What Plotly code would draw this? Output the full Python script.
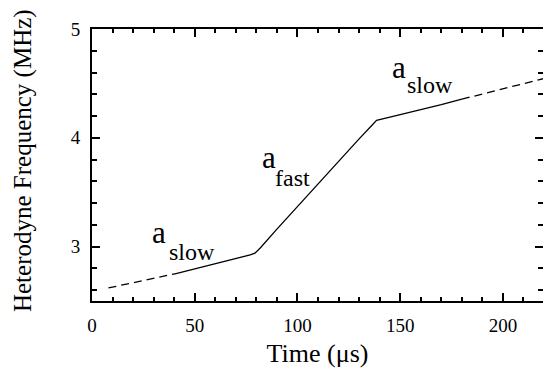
import plotly.graph_objects as go

# Data
dash_lo_t = [8, 40.4]
dash_lo_f = [2.62, 2.75]
solid_t = [40.4, 50, 60, 70, 77, 79.3, 82, 90, 100, 110, 120, 130, 136.5, 138.5, 145, 150, 160, 170, 180]
solid_f = [2.75, 2.795, 2.84, 2.89, 2.925, 2.94, 2.99, 3.16, 3.37, 3.58, 3.78, 3.99, 4.12, 4.16, 4.19, 4.215, 4.26, 4.305, 4.355]
dash_hi_t = [180, 220]
dash_hi_f = [4.355, 4.545]

labels = [
    # (main text, subscript, x of main, y of main, x of sub, y of sub)
    ("a", "slow", 28.2, 3.13, 36.5, 2.955),
    ("a", "fast", 81.8, 3.82, 88.1, 3.635),
    ("a", "slow", 145.0, 4.65, 152.3, 4.485),
]

FONT = "Liberation Serif"
W = 543
H = 372
L, T, B = 92, 29, 71

fig = go.Figure()
fig.add_trace(go.Scatter(x=dash_lo_t, y=dash_lo_f, mode="lines",
                         line=dict(color="black", width=1.3, dash="8px,5px"), showlegend=False))
fig.add_trace(go.Scatter(x=solid_t, y=solid_f, mode="lines",
                         line=dict(color="black", width=1.3), showlegend=False))
fig.add_trace(go.Scatter(x=dash_hi_t, y=dash_hi_f, mode="lines",
                         line=dict(color="black", width=1.3, dash="8px,5px"), showlegend=False))
# invisible trace to activate the top/right tick axes
fig.add_trace(go.Scatter(x=[0], y=[2.5], xaxis="x2", yaxis="y2", mode="markers",
                         marker=dict(opacity=0), showlegend=False, hoverinfo="skip"))

for main, sub, xm, ym, xs, ys in labels:
    fig.add_annotation(x=xm, y=ym, xref="x", yref="y", text=main, showarrow=False,
                       xanchor="left", yanchor="middle",
                       font=dict(family=FONT, size=31, color="black"))
    fig.add_annotation(x=xs, y=ys, xref="x", yref="y", text=sub, showarrow=False,
                       xanchor="left", yanchor="middle",
                       font=dict(family=FONT, size=24, color="black"))

# y-axis title
fig.add_annotation(x=-0.154, y=0.5165, xref="paper", yref="paper",
                   text="Heterodyne Frequency (MHz)", textangle=-90, showarrow=False,
                   xanchor="center", yanchor="middle",
                   font=dict(family=FONT, size=25, color="black"))

xr = [0, 219.5]
yr = [2.5, 5]
common_x = dict(range=xr, dtick=50, tick0=0, ticks="inside", ticklen=8, tickwidth=2,
                tickcolor="black", showgrid=False, zeroline=False, automargin=False,
                minor=dict(dtick=10, ticks="inside", ticklen=4, tickwidth=2,
                           tickcolor="black"))
common_y = dict(range=yr, dtick=1, tick0=0, ticks="inside", ticklen=8, tickwidth=2,
                tickcolor="black", showgrid=False, zeroline=False, automargin=False,
                minor=dict(dtick=0.2, ticks="inside", ticklen=5, tickwidth=2,
                           tickcolor="black"))

fig.update_layout(
    width=W, height=H,
    margin=dict(l=L, r=0, t=T, b=B, pad=0),
    paper_bgcolor="white", plot_bgcolor="white",
    font=dict(family=FONT, color="black", size=19),
    xaxis=dict(**common_x, showline=True, linecolor="black", linewidth=2,
               ticklabelstandoff=6,
               title=dict(text="Time (μs)", font=dict(size=26, family=FONT), standoff=9)),
    yaxis=dict(**common_y, showline=True, linecolor="black", linewidth=2,
               ticklabelstandoff=6),
    xaxis2=dict(**common_x, overlaying="x", side="top", matches="x", showticklabels=False,
                showline=True, linecolor="black", linewidth=2),
    yaxis2=dict(**common_y, overlaying="y", side="right", matches="y", showticklabels=False,
                showline=False),
)

# remove the default 8px page margin so the figure fills the window exactly
fig.write_html("out.html", config={"displayModeBar": False},
               post_script="document.body.style.margin='0';")
